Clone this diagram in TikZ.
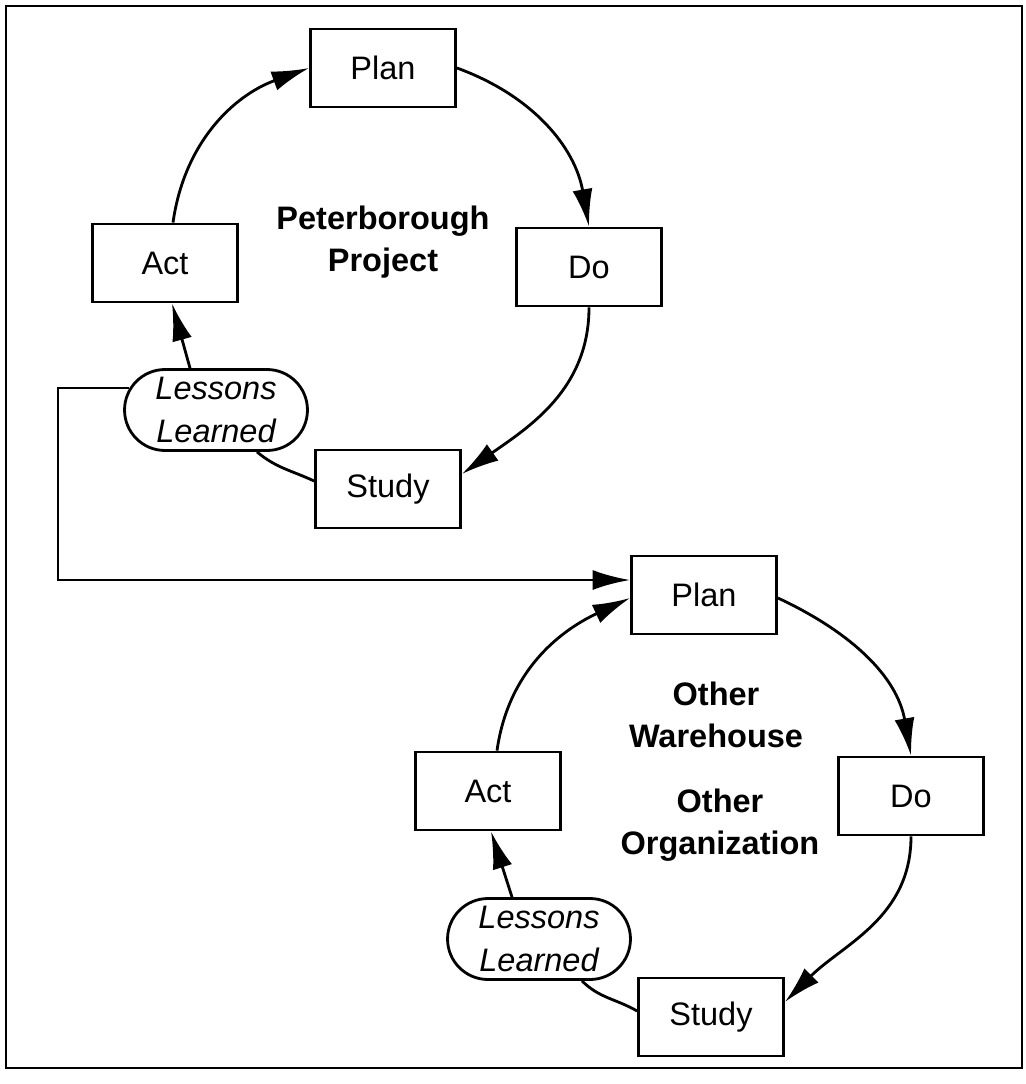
\documentclass[tikz,border=0pt]{standalone}
\usepackage{fontspec}
\setmainfont{Liberation Sans}
\usetikzlibrary{arrows.meta,shapes.misc,calc}

\begin{document}
\begin{tikzpicture}[
    x=0.02cm, y=-0.02cm,
    box/.style={draw, line width=1.6pt, minimum width=2.9cm, minimum height=1.56cm, align=center, font=\fontsize{18.5}{22}\selectfont},
    lesson/.style={draw, line width=1.6pt, rounded rectangle, minimum width=3.8cm, minimum height=1.62cm, inner xsep=2pt, align=center, font=\fontsize{18.5}{24}\selectfont\itshape},
    title/.style={align=center, font=\fontsize{18.5}{24}\selectfont\bfseries},
    arrow/.style={-{Latex[length=7.5mm, width=4mm]}, line width=1.6pt},
    link/.style={line width=1.6pt}
]
\useasboundingbox (0,0) rectangle (1026,1084);
\draw[line width=1.2pt] (6,6) rectangle (1022,1068);

% first cycle
\node[box] (plan) at (383,68) {Plan};
\node[box] (do) at (589,267) {Do};
\node[box] (study) at (388,489) {Study};
\node[box] (act) at (165,263) {Act};
\node[lesson] (lessons) at (216,410) {Lessons\\Learned};
\node[title] (peter) at (383,242) {Peterborough\\Project};

\draw[arrow] ($(act.north)+(8,0)$) to[out=82, in=200] (plan.west);
\draw[arrow] (plan.east) to[out=-20, in=100] (do.north);
\draw[arrow] (do.south) to[out=-90, in=35] ($(study.east)+(0,-15)$);
\draw[link] ($(study.west)+(0,-8)$) to[out=155, in=-40] ($(lessons.south)+(41,0)$);
\draw[arrow] ($(lessons.north)+(-26,0)$) -- ($(act.south)+(7,0)$);

% second cycle
\node[box] (plan2) at (704,595) {Plan};
\node[box] (do2) at (911,796) {Do};
\node[box] (study2) at (711,1017) {Study};
\node[box] (act2) at (488,791) {Act};
\node[lesson] (lessons2) at (539,939) {Lessons\\Learned};
\node[title] (other) at (716,715) {Other\\Warehouse};
\node[title] (org) at (720,825) {Other\\Organization};

\draw[arrow] ($(act2.north)+(9,0)$) to[out=82, in=205] ($(plan2.west)+(0,3)$);
\draw[arrow] ($(plan2.east)+(0,3)$) to[out=-25, in=100] (do2.north);
\draw[arrow] (do2.south) to[out=-90, in=45] ($(study2.east)+(0,-15)$);
\draw[link] ($(study2.west)+(0,-6)$) to[out=150, in=-45] ($(lessons2.south)+(43,0)$);
\draw[arrow] ($(lessons2.north)+(-27,0)$) -- ($(act2.south)+(3,0)$);

% lessons carried over
\coordinate (turn) at (58,580);
\draw[arrow] ($(lessons.west)+(6,-22)$) -| (turn) -- ($(plan2.west)+(0,-15)$);
\end{tikzpicture}
\end{document}
